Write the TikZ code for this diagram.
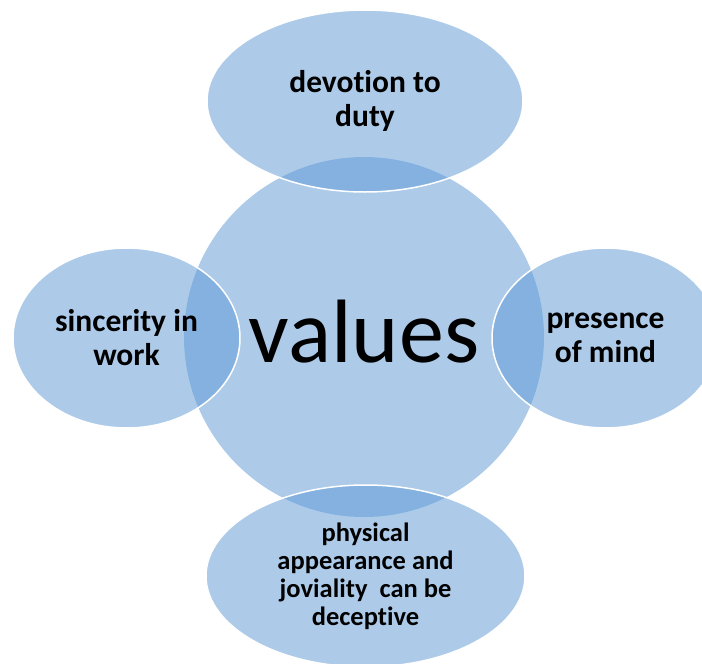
\documentclass[tikz,border=0pt]{standalone}
\usepackage{fontspec}
\setmainfont{Carlito}[Ligatures = NoCommon]
\usetikzlibrary{shapes.geometric}
\definecolor{valblue}{RGB}{91,152,212}
\tikzset{
	hub/.style = {circle, fill = valblue, fill opacity = 0.5, text opacity = 1, inner sep = 0pt, minimum size = 360pt, font = \fontsize{90}{90}\selectfont},
	petal/.style = {ellipse, fill = valblue, fill opacity = 0.5, text opacity = 1, draw = white, line width = 1.5pt, inner sep = 0pt, align = center, font = \bfseries\fontsize{31.5}{34}\selectfont}
}
\begin{document}
\begin{tikzpicture}[x = 1pt, y = -1pt]
			\useasboundingbox (0,0) rectangle (702,664);
			%centre circle
			\node (values) [hub, text depth = 12pt] at (364,337) {values};
			%four petals round it
			\node (duty) [petal, minimum width = 316pt, minimum height = 182pt] at (365,101) {devotion to\\duty};
			\node (sincerity) [petal, minimum width = 227pt, minimum height = 180pt] at (126.5,338) {sincerity in\\work};
			\node (mind) [petal, minimum width = 227pt, minimum height = 180pt] at (605.5,338) {presence\\of mind};
			\node (looks) [petal, minimum width = 319pt, minimum height = 182pt, font = \bfseries\fontsize{26.5}{28}\selectfont] at (365.5,576) {physical\\appearance and\\joviality \ can be\\deceptive};
		\end{tikzpicture}
\end{document}
